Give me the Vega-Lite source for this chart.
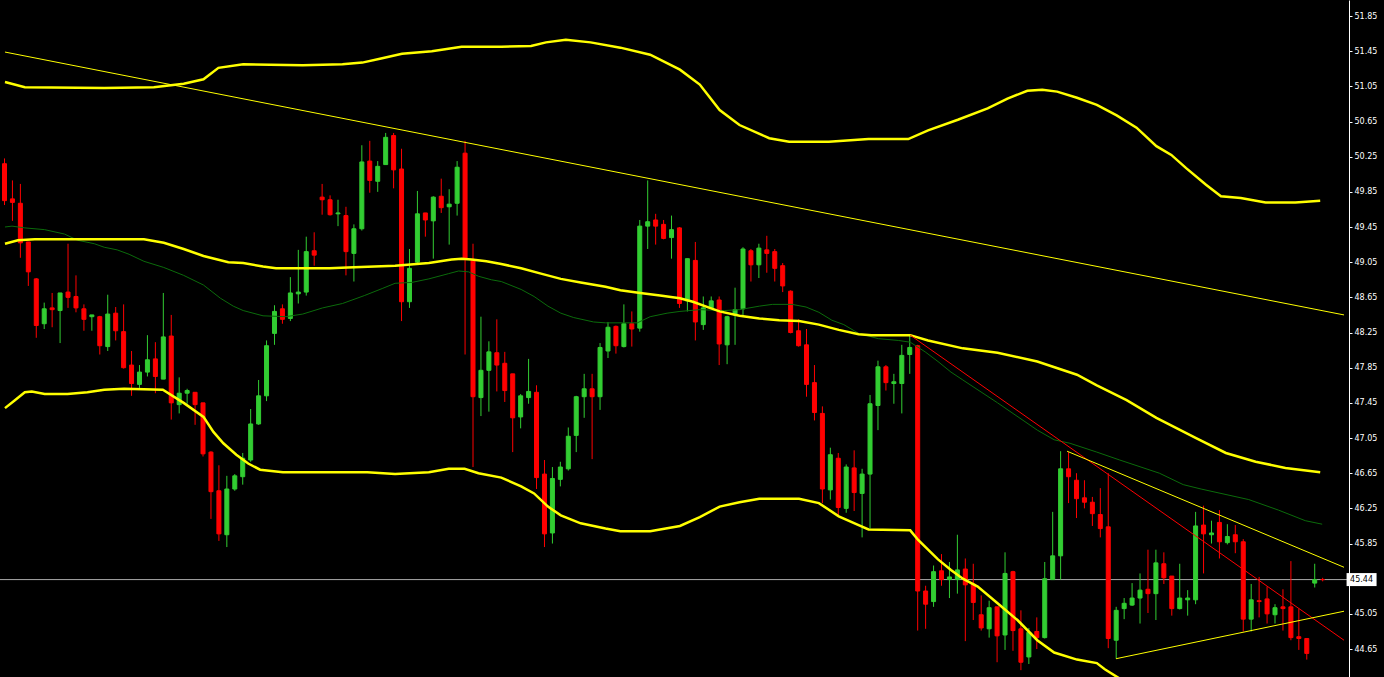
{
"$schema": "https://vega.github.io/schema/vega-lite/v6.json",
"width": 1349, "height": 677,
"autosize": {"type": "none"},
"padding": {"left": 0, "top": 0, "right": 35, "bottom": 0},
"background": "#000000",
"config": {"view": {"stroke": null}, "axis": {"labelOverlap": false, "labelBound": false, "labelFlush": false, "labelColor": "#FFFFFF", "labelFont": "DejaVu Sans", "labelFontSize": 8, "tickColor": "#FFFFFF", "tickSize": 3, "tickWidth": 1, "domainColor": "#FFFFFF", "domainWidth": 1, "labelPadding": 2, "grid": false}},
"datasets": {
"candles": [
{"k":0,"o":50.17,"h":50.23,"l":49.70,"c":49.75},{"k":1,"o":49.77,"h":49.98,"l":49.52,"c":49.73},{"k":2,"o":49.72,"h":49.94,"l":49.10,"c":49.27},{"k":3,"o":49.28,"h":49.28,"l":48.78,"c":48.94},{"k":4,"o":48.86,"h":48.87,"l":48.19,"c":48.33},{"k":5,"o":48.35,"h":48.59,"l":48.29,"c":48.52},{"k":6,"o":48.53,"h":48.70,"l":48.31,"c":48.51},{"k":7,"o":48.50,"h":48.70,"l":48.13,"c":48.70},{"k":8,"o":48.71,"h":49.26,"l":48.53,"c":48.65},{"k":9,"o":48.66,"h":48.90,"l":48.48,"c":48.53},
{"k":10,"o":48.52,"h":48.57,"l":48.27,"c":48.40},{"k":11,"o":48.43,"h":48.45,"l":48.27,"c":48.45},{"k":12,"o":48.43,"h":48.44,"l":48.00,"c":48.10},{"k":13,"o":48.09,"h":48.68,"l":48.04,"c":48.46},{"k":14,"o":48.47,"h":48.54,"l":48.16,"c":48.27},{"k":15,"o":48.26,"h":48.57,"l":47.84,"c":47.85},{"k":16,"o":47.88,"h":48.04,"l":47.53,"c":47.67},{"k":17,"o":47.66,"h":47.88,"l":47.62,"c":47.80},{"k":18,"o":47.80,"h":48.22,"l":47.75,"c":47.94},{"k":19,"o":47.95,"h":48.14,"l":47.56,"c":47.75},
{"k":20,"o":47.72,"h":48.70,"l":47.72,"c":48.20},{"k":21,"o":48.21,"h":48.45,"l":47.26,"c":47.45},{"k":22,"o":47.43,"h":47.74,"l":47.33,"c":47.56},{"k":23,"o":47.56,"h":47.61,"l":47.44,"c":47.59},{"k":24,"o":47.57,"h":47.57,"l":47.20,"c":47.43},{"k":25,"o":47.45,"h":47.45,"l":46.84,"c":46.87},{"k":26,"o":46.89,"h":46.90,"l":46.13,"c":46.44},{"k":27,"o":46.45,"h":46.74,"l":45.88,"c":45.96},{"k":28,"o":45.95,"h":46.62,"l":45.81,"c":46.47},{"k":29,"o":46.47,"h":46.64,"l":46.45,"c":46.62},
{"k":30,"o":46.61,"h":46.88,"l":46.52,"c":46.82},{"k":31,"o":46.80,"h":47.38,"l":46.78,"c":47.21},{"k":32,"o":47.21,"h":47.71,"l":47.20,"c":47.53},{"k":33,"o":47.53,"h":48.16,"l":47.47,"c":48.10},{"k":34,"o":48.24,"h":48.56,"l":48.11,"c":48.49},{"k":35,"o":48.52,"h":48.57,"l":48.35,"c":48.40},{"k":36,"o":48.41,"h":48.88,"l":48.38,"c":48.70},{"k":37,"o":48.69,"h":49.19,"l":48.58,"c":48.71},{"k":38,"o":48.71,"h":49.34,"l":48.67,"c":49.17},{"k":39,"o":49.18,"h":49.39,"l":49.01,"c":49.13},
{"k":40,"o":49.79,"h":49.94,"l":49.59,"c":49.76},{"k":41,"o":49.76,"h":49.81,"l":49.58,"c":49.59},{"k":42,"o":49.60,"h":49.76,"l":49.46,"c":49.61},{"k":43,"o":49.58,"h":49.68,"l":48.90,"c":49.17},{"k":44,"o":49.15,"h":49.48,"l":48.83,"c":49.43},{"k":45,"o":49.43,"h":50.38,"l":49.41,"c":50.19},{"k":46,"o":50.20,"h":50.43,"l":49.84,"c":49.98},{"k":47,"o":49.97,"h":50.20,"l":49.85,"c":50.14},{"k":48,"o":50.16,"h":50.52,"l":50.16,"c":50.47},{"k":49,"o":50.49,"h":50.52,"l":49.89,"c":50.10},
{"k":50,"o":50.11,"h":50.34,"l":48.38,"c":48.60},{"k":51,"o":48.60,"h":49.20,"l":48.53,"c":48.98},{"k":52,"o":49.05,"h":49.86,"l":49.04,"c":49.60},{"k":53,"o":49.61,"h":49.61,"l":49.34,"c":49.53},{"k":54,"o":49.52,"h":49.80,"l":49.09,"c":49.79},{"k":55,"o":49.80,"h":50.00,"l":49.61,"c":49.67},{"k":56,"o":49.68,"h":49.88,"l":49.25,"c":49.71},{"k":57,"o":49.72,"h":50.20,"l":49.58,"c":50.13},{"k":58,"o":50.29,"h":50.43,"l":48.00,"c":49.08},{"k":59,"o":49.07,"h":49.26,"l":46.72,"c":47.52},
{"k":60,"o":47.51,"h":48.43,"l":47.30,"c":47.82},{"k":61,"o":47.82,"h":48.15,"l":47.35,"c":48.03},{"k":62,"o":48.02,"h":48.40,"l":47.58,"c":47.88},{"k":63,"o":47.90,"h":48.03,"l":47.46,"c":47.59},{"k":64,"o":47.78,"h":47.78,"l":46.89,"c":47.28},{"k":65,"o":47.29,"h":47.55,"l":47.16,"c":47.53},{"k":66,"o":47.51,"h":47.95,"l":47.44,"c":47.58},{"k":67,"o":47.57,"h":47.65,"l":46.47,"c":46.60},{"k":68,"o":46.64,"h":46.80,"l":45.81,"c":45.96},{"k":69,"o":45.97,"h":46.72,"l":45.85,"c":46.59},
{"k":70,"o":46.58,"h":46.78,"l":46.50,"c":46.72},{"k":71,"o":46.70,"h":47.17,"l":46.68,"c":47.07},{"k":72,"o":47.08,"h":47.53,"l":46.89,"c":47.52},{"k":73,"o":47.52,"h":47.78,"l":47.28,"c":47.61},{"k":74,"o":47.61,"h":47.78,"l":46.81,"c":47.52},{"k":75,"o":47.52,"h":48.13,"l":47.37,"c":48.08},{"k":76,"o":48.04,"h":48.37,"l":47.96,"c":48.31},{"k":77,"o":48.32,"h":48.33,"l":48.01,"c":48.10},{"k":78,"o":48.09,"h":48.57,"l":48.08,"c":48.35},{"k":79,"o":48.35,"h":48.49,"l":48.09,"c":48.29},
{"k":80,"o":48.30,"h":49.53,"l":48.26,"c":49.46},{"k":81,"o":49.46,"h":49.98,"l":49.20,"c":49.51},{"k":82,"o":49.53,"h":49.60,"l":49.25,"c":49.46},{"k":83,"o":49.48,"h":49.53,"l":49.31,"c":49.32},{"k":84,"o":49.33,"h":49.58,"l":49.09,"c":49.42},{"k":85,"o":49.44,"h":49.45,"l":48.53,"c":48.58},{"k":86,"o":48.61,"h":49.09,"l":48.49,"c":49.09},{"k":87,"o":49.07,"h":49.28,"l":48.16,"c":48.37},{"k":88,"o":48.34,"h":48.66,"l":48.28,"c":48.53},{"k":89,"o":48.53,"h":48.66,"l":48.52,"c":48.61},
{"k":90,"o":48.62,"h":48.66,"l":47.88,"c":48.12},{"k":91,"o":48.11,"h":48.44,"l":47.89,"c":48.43},{"k":92,"o":48.45,"h":48.76,"l":48.11,"c":48.51},{"k":93,"o":48.52,"h":49.22,"l":48.45,"c":49.20},{"k":94,"o":49.18,"h":49.20,"l":48.83,"c":49.02},{"k":95,"o":49.02,"h":49.26,"l":48.87,"c":49.21},{"k":96,"o":49.19,"h":49.35,"l":48.93,"c":49.15},{"k":97,"o":49.17,"h":49.20,"l":48.83,"c":48.98},{"k":98,"o":49.01,"h":49.04,"l":48.71,"c":48.78},{"k":99,"o":48.72,"h":48.73,"l":48.24,"c":48.25},
{"k":100,"o":48.27,"h":48.40,"l":48.09,"c":48.10},{"k":101,"o":48.11,"h":48.29,"l":47.52,"c":47.66},{"k":102,"o":47.68,"h":47.88,"l":47.25,"c":47.34},{"k":103,"o":47.33,"h":47.41,"l":46.31,"c":46.47},{"k":104,"o":46.46,"h":46.94,"l":46.35,"c":46.86},{"k":105,"o":46.82,"h":46.88,"l":46.17,"c":46.26},{"k":106,"o":46.25,"h":46.75,"l":46.20,"c":46.72},{"k":107,"o":46.71,"h":46.91,"l":46.22,"c":46.43},{"k":108,"o":46.42,"h":46.70,"l":45.92,"c":46.64},{"k":109,"o":46.64,"h":47.54,"l":46.02,"c":47.44},
{"k":110,"o":47.42,"h":47.93,"l":47.14,"c":47.86},{"k":111,"o":47.86,"h":47.88,"l":47.59,"c":47.68},{"k":112,"o":47.67,"h":47.78,"l":47.44,"c":47.69},{"k":113,"o":47.67,"h":48.11,"l":47.33,"c":47.99},{"k":114,"o":48.00,"h":48.22,"l":47.78,"c":48.08},{"k":115,"o":48.10,"h":48.11,"l":44.86,"c":45.31},{"k":116,"o":45.31,"h":45.37,"l":44.88,"c":45.16},{"k":117,"o":45.19,"h":45.60,"l":45.13,"c":45.53},{"k":118,"o":45.54,"h":45.73,"l":45.37,"c":45.44},{"k":119,"o":45.44,"h":45.64,"l":45.23,"c":45.47},
{"k":120,"o":45.44,"h":45.95,"l":45.28,"c":45.55},{"k":121,"o":45.56,"h":45.68,"l":44.74,"c":45.38},{"k":122,"o":45.39,"h":45.62,"l":44.98,"c":45.18},{"k":123,"o":45.04,"h":45.26,"l":44.86,"c":44.89},{"k":124,"o":44.88,"h":45.20,"l":44.78,"c":45.12},{"k":125,"o":45.13,"h":45.13,"l":44.50,"c":44.80},{"k":126,"o":44.81,"h":45.75,"l":44.64,"c":45.51},{"k":127,"o":45.53,"h":45.54,"l":44.63,"c":44.86},{"k":128,"o":44.88,"h":45.09,"l":44.41,"c":44.50},{"k":129,"o":44.56,"h":44.89,"l":44.48,"c":44.84},
{"k":130,"o":44.85,"h":45.01,"l":44.65,"c":44.78},{"k":131,"o":44.78,"h":45.64,"l":44.77,"c":45.45},{"k":132,"o":45.44,"h":46.21,"l":45.44,"c":45.71},{"k":133,"o":45.71,"h":46.90,"l":45.44,"c":46.70},{"k":134,"o":46.70,"h":46.89,"l":46.31,"c":46.61},{"k":135,"o":46.57,"h":46.65,"l":46.14,"c":46.36},{"k":136,"o":46.37,"h":46.57,"l":46.25,"c":46.32},{"k":137,"o":46.32,"h":46.38,"l":46.05,"c":46.19},{"k":138,"o":46.18,"h":46.48,"l":45.92,"c":46.02},{"k":139,"o":46.04,"h":46.65,"l":44.66,"c":44.77},
{"k":140,"o":44.75,"h":45.13,"l":44.54,"c":45.09},{"k":141,"o":45.11,"h":45.23,"l":44.99,"c":45.17},{"k":142,"o":45.15,"h":45.40,"l":45.14,"c":45.23},{"k":143,"o":45.23,"h":45.51,"l":44.94,"c":45.32},{"k":144,"o":45.33,"h":45.78,"l":45.06,"c":45.28},{"k":145,"o":45.28,"h":45.78,"l":44.98,"c":45.63},{"k":146,"o":45.62,"h":45.75,"l":45.39,"c":45.46},{"k":147,"o":45.48,"h":45.48,"l":45.03,"c":45.11},{"k":148,"o":45.11,"h":45.62,"l":45.10,"c":45.23},{"k":149,"o":45.21,"h":45.32,"l":45.03,"c":45.23},
{"k":150,"o":45.21,"h":46.21,"l":45.16,"c":46.05},{"k":151,"o":46.06,"h":46.28,"l":45.51,"c":45.96},{"k":152,"o":45.95,"h":46.11,"l":45.85,"c":45.97},{"k":153,"o":46.09,"h":46.23,"l":45.68,"c":45.87},{"k":154,"o":45.86,"h":46.07,"l":45.84,"c":45.93},{"k":155,"o":45.95,"h":46.06,"l":45.74,"c":45.87},{"k":156,"o":45.87,"h":45.90,"l":44.85,"c":44.99},{"k":157,"o":44.99,"h":45.39,"l":44.85,"c":45.21},{"k":158,"o":45.20,"h":45.47,"l":45.01,"c":45.19},{"k":159,"o":45.22,"h":45.36,"l":44.94,"c":45.05},
{"k":160,"o":45.04,"h":45.16,"l":44.94,"c":45.12},{"k":161,"o":45.13,"h":45.33,"l":44.86,"c":45.11},{"k":162,"o":45.13,"h":45.65,"l":44.75,"c":44.78},{"k":163,"o":44.79,"h":45.11,"l":44.64,"c":44.77},{"k":164,"o":44.77,"h":44.77,"l":44.53,"c":44.60},{"k":165,"o":45.40,"h":45.62,"l":45.35,"c":45.44},{"k":166,"o":45.44,"h":45.46,"l":45.42,"c":45.44}
],
"upper": [
{"k":0.06,"p":51.10},{"k":2.56,"p":51.04},{"k":12.56,"p":51.03},{"k":18.81,"p":51.04},{"k":22.56,"p":51.08},{"k":25.06,"p":51.13},{"k":26.94,"p":51.26},{"k":30.06,"p":51.30},{"k":37.56,"p":51.29},{"k":42.56,"p":51.30},{"k":45.06,"p":51.32},{"k":47.56,"p":51.37},{"k":50.06,"p":51.42},{"k":53.81,"p":51.45},{"k":57.56,"p":51.50},{"k":62.56,"p":51.50},{"k":66.31,"p":51.51},{"k":68.19,"p":51.55},{"k":70.69,"p":51.58},{"k":73.81,"p":51.55},{"k":77.56,"p":51.49},{"k":81.31,"p":51.41},{"k":85.06,"p":51.24},{"k":87.56,"p":51.07},{"k":90.06,"p":50.78},{"k":92.56,"p":50.61},{"k":96.31,"p":50.46},{"k":98.81,"p":50.42},{"k":103.81,"p":50.42},{"k":108.81,"p":50.45},{"k":113.81,"p":50.45},{"k":116.31,"p":50.55},{"k":120.06,"p":50.67},{"k":123.81,"p":50.80},{"k":126.31,"p":50.91},{"k":128.81,"p":51.00},{"k":130.69,"p":51.01},{"k":132.56,"p":50.99},{"k":135.06,"p":50.92},{"k":137.56,"p":50.84},{"k":140.06,"p":50.72},{"k":142.56,"p":50.58},{"k":145.06,"p":50.37},{"k":146.94,"p":50.27},{"k":148.81,"p":50.12},{"k":151.31,"p":49.93},{"k":153.19,"p":49.80},{"k":155.69,"p":49.78},{"k":158.81,"p":49.73},{"k":162.56,"p":49.73},{"k":165.69,"p":49.75}
],
"mid": [
{"k":0.06,"p":49.26},{"k":1.69,"p":49.30},{"k":3.81,"p":49.31},{"k":15.06,"p":49.31},{"k":17.56,"p":49.31},{"k":20.06,"p":49.27},{"k":22.56,"p":49.20},{"k":25.06,"p":49.12},{"k":28.19,"p":49.05},{"k":30.06,"p":49.04},{"k":32.56,"p":49.00},{"k":34.19,"p":48.98},{"k":40.94,"p":48.98},{"k":43.19,"p":48.99},{"k":49.19,"p":49.01},{"k":53.44,"p":49.04},{"k":56.31,"p":49.08},{"k":57.56,"p":49.09},{"k":58.81,"p":49.08},{"k":60.69,"p":49.06},{"k":62.56,"p":49.03},{"k":65.06,"p":48.98},{"k":67.56,"p":48.92},{"k":70.06,"p":48.86},{"k":72.56,"p":48.82},{"k":75.69,"p":48.77},{"k":77.56,"p":48.73},{"k":80.06,"p":48.70},{"k":82.56,"p":48.67},{"k":85.06,"p":48.64},{"k":86.69,"p":48.60},{"k":88.81,"p":48.53},{"k":90.06,"p":48.49},{"k":92.56,"p":48.44},{"k":95.06,"p":48.41},{"k":97.56,"p":48.39},{"k":100.06,"p":48.38},{"k":102.56,"p":48.34},{"k":105.06,"p":48.28},{"k":107.56,"p":48.23},{"k":109.19,"p":48.22},{"k":114.06,"p":48.22},{"k":116.31,"p":48.16},{"k":120.69,"p":48.07},{"k":125.06,"p":48.02},{"k":130.06,"p":47.92},{"k":135.06,"p":47.77},{"k":137.56,"p":47.65},{"k":141.31,"p":47.48},{"k":145.06,"p":47.28},{"k":150.06,"p":47.05},{"k":153.81,"p":46.88},{"k":157.56,"p":46.78},{"k":161.31,"p":46.71},{"k":165.69,"p":46.66}
],
"lower": [
{"k":0.06,"p":47.39},{"k":1.31,"p":47.48},{"k":2.56,"p":47.57},{"k":3.44,"p":47.58},{"k":5.06,"p":47.55},{"k":7.94,"p":47.55},{"k":10.44,"p":47.57},{"k":12.56,"p":47.60},{"k":15.06,"p":47.61},{"k":19.94,"p":47.60},{"k":22.56,"p":47.45},{"k":25.06,"p":47.29},{"k":26.31,"p":47.12},{"k":27.56,"p":46.99},{"k":29.19,"p":46.86},{"k":30.69,"p":46.76},{"k":32.19,"p":46.69},{"k":35.06,"p":46.66},{"k":45.69,"p":46.66},{"k":49.19,"p":46.64},{"k":53.44,"p":46.66},{"k":55.94,"p":46.70},{"k":57.94,"p":46.70},{"k":59.69,"p":46.65},{"k":62.56,"p":46.60},{"k":65.06,"p":46.50},{"k":66.69,"p":46.42},{"k":68.44,"p":46.27},{"k":70.06,"p":46.17},{"k":72.56,"p":46.08},{"k":75.69,"p":46.02},{"k":77.56,"p":45.99},{"k":81.31,"p":45.99},{"k":85.06,"p":46.05},{"k":87.56,"p":46.15},{"k":90.06,"p":46.27},{"k":92.56,"p":46.32},{"k":95.06,"p":46.36},{"k":100.06,"p":46.36},{"k":102.56,"p":46.31},{"k":105.06,"p":46.16},{"k":107.56,"p":46.06},{"k":108.81,"p":46.01},{"k":114.06,"p":46.00},{"k":115.06,"p":45.89},{"k":116.31,"p":45.78},{"k":117.56,"p":45.67},{"k":119.19,"p":45.55},{"k":120.69,"p":45.45},{"k":122.56,"p":45.36},{"k":125.06,"p":45.17},{"k":127.56,"p":44.98},{"k":130.06,"p":44.75},{"k":132.19,"p":44.61},{"k":135.06,"p":44.53},{"k":137.56,"p":44.49},{"k":138.56,"p":44.42},{"k":140.69,"p":44.30}
],
"ma": [
{"k":0.06,"p":49.45},{"k":0.94,"p":49.46},{"k":2.56,"p":49.44},{"k":5.06,"p":49.42},{"k":7.56,"p":49.37},{"k":9.19,"p":49.30},{"k":11.31,"p":49.26},{"k":12.56,"p":49.22},{"k":14.19,"p":49.19},{"k":15.69,"p":49.14},{"k":17.56,"p":49.06},{"k":20.06,"p":48.99},{"k":22.56,"p":48.90},{"k":25.06,"p":48.79},{"k":27.19,"p":48.64},{"k":28.81,"p":48.55},{"k":30.06,"p":48.50},{"k":32.56,"p":48.44},{"k":35.44,"p":48.43},{"k":37.56,"p":48.46},{"k":40.06,"p":48.53},{"k":42.56,"p":48.58},{"k":45.31,"p":48.67},{"k":47.56,"p":48.75},{"k":49.19,"p":48.81},{"k":51.31,"p":48.82},{"k":53.44,"p":48.86},{"k":55.94,"p":48.92},{"k":57.19,"p":48.95},{"k":58.44,"p":48.94},{"k":59.69,"p":48.89},{"k":61.31,"p":48.85},{"k":62.56,"p":48.83},{"k":65.06,"p":48.74},{"k":66.69,"p":48.66},{"k":68.44,"p":48.55},{"k":70.06,"p":48.47},{"k":71.69,"p":48.42},{"k":74.19,"p":48.37},{"k":75.69,"p":48.36},{"k":79.69,"p":48.36},{"k":81.31,"p":48.43},{"k":83.44,"p":48.47},{"k":85.06,"p":48.49},{"k":87.56,"p":48.51},{"k":90.69,"p":48.50},{"k":92.56,"p":48.51},{"k":95.06,"p":48.55},{"k":96.69,"p":48.57},{"k":99.19,"p":48.57},{"k":100.94,"p":48.54},{"k":102.56,"p":48.48},{"k":104.19,"p":48.39},{"k":105.69,"p":48.34},{"k":107.56,"p":48.24},{"k":110.06,"p":48.18},{"k":112.56,"p":48.16},{"k":114.06,"p":48.14},{"k":115.94,"p":48.03},{"k":117.56,"p":47.92},{"k":119.19,"p":47.80},{"k":120.69,"p":47.71},{"k":125.06,"p":47.45},{"k":130.06,"p":47.14},{"k":132.19,"p":47.03},{"k":134.19,"p":46.99},{"k":137.56,"p":46.89},{"k":140.44,"p":46.80},{"k":145.44,"p":46.65},{"k":148.44,"p":46.52},{"k":150.69,"p":46.47},{"k":156.69,"p":46.35},{"k":160.44,"p":46.23},{"k":163.81,"p":46.11},{"k":165.94,"p":46.07}
],
"trend": [
{"t":"a","k":0.06,"p":51.44},{"t":"a","k":168.69,"p":48.45},
{"t":"b","k":114.06,"p":48.22},{"t":"b","k":168.69,"p":44.75},
{"t":"c","k":133.81,"p":46.90},{"t":"c","k":168.69,"p":45.58},
{"t":"d","k":139.98,"p":44.54},{"t":"d","k":168.69,"p":45.08}
],
"last": [{"p":45.44,"label":"45.44"}]
},
"layer": [
{
"data": {"name": "last"},
"mark": {"type": "rule", "color": "#A9A9A9", "strokeWidth": 1},
"encoding": {
"y": {"field": "p", "type": "quantitative", "title": null,
"scale": {"domain": [44.332, 52.032], "nice": false, "zero": false},
"axis": {"orient": "right", "values": [44.65,45.05,45.85,46.25,46.65,47.05,47.45,47.85,48.25,48.65,49.05,49.45,49.85,50.25,50.65,51.05,51.45,51.85], "tickCount": 60, "format": ".2f", "labelOverlap": false, "labelBound": false, "labelFlush": false, "title": null}
}
}
},
{
"data": {"name": "candles"},
"mark": {"type": "rule", "strokeWidth": 1},
"encoding": {
"x": {"field": "k", "type": "quantitative", "scale": {"domain": [0.0625, 168.6875], "nice": false, "zero": false}, "axis": null},
"y": {"field": "l", "type": "quantitative", "title": null},
"y2": {"field": "h"},
"color": {"condition": {"test": "datum.c > datum.o", "value": "#32CD32"}, "value": "#FF0000"}
}
},
{
"data": {"name": "candles"},
"mark": {"type": "bar", "width": 4, "strokeWidth": 1},
"encoding": {
"x": {"field": "k", "type": "quantitative", "axis": null},
"y": {"field": "o", "type": "quantitative", "title": null},
"y2": {"field": "c"},
"fill": {"condition": {"test": "datum.c > datum.o", "value": "#32CD32"}, "value": "#FF0000"},
"stroke": {"condition": {"test": "datum.c > datum.o", "value": "#32CD32"}, "value": "#FF0000"}
}
},
{
"data": {"name": "ma"},
"mark": {"type": "line", "color": "#0B6B0B", "strokeWidth": 1, "clip": true},
"encoding": {"x": {"field": "k", "type": "quantitative", "axis": null}, "y": {"field": "p", "type": "quantitative", "title": null}}
},
{
"data": {"name": "upper"},
"mark": {"type": "line", "color": "#FFFF00", "strokeWidth": 2.5, "clip": true},
"encoding": {"x": {"field": "k", "type": "quantitative", "axis": null}, "y": {"field": "p", "type": "quantitative", "title": null}}
},
{
"data": {"name": "mid"},
"mark": {"type": "line", "color": "#FFFF00", "strokeWidth": 2.5, "clip": true},
"encoding": {"x": {"field": "k", "type": "quantitative", "axis": null}, "y": {"field": "p", "type": "quantitative", "title": null}}
},
{
"data": {"name": "lower"},
"mark": {"type": "line", "color": "#FFFF00", "strokeWidth": 2.5, "clip": true},
"encoding": {"x": {"field": "k", "type": "quantitative", "axis": null}, "y": {"field": "p", "type": "quantitative", "title": null}}
},
{
"data": {"name": "trend"},
"mark": {"type": "line", "strokeWidth": 1, "clip": true},
"encoding": {
"x": {"field": "k", "type": "quantitative", "axis": null},
"y": {"field": "p", "type": "quantitative", "title": null},
"color": {"field": "t", "type": "nominal", "legend": null, "scale": {"domain": ["a","b","c","d"], "range": ["#FFFF00","#FF0000","#FFFF00","#FFFF00"]}}
}
},
{
"data": {"name": "last"},
"mark": {"type": "tick", "orient": "horizontal", "color": "#FFFFFF", "size": 30, "thickness": 13, "opacity": 1},
"encoding": {
"x": {"datum": 170.9, "type": "quantitative", "axis": null},
"y": {"field": "p", "type": "quantitative", "title": null}
}
},
{
"data": {"name": "last"},
"mark": {"type": "text", "color": "#000000", "font": "DejaVu Sans", "fontSize": 8, "align": "center", "baseline": "middle"},
"encoding": {
"x": {"datum": 170.9, "type": "quantitative", "axis": null},
"y": {"field": "p", "type": "quantitative", "title": null},
"text": {"field": "label"}
}
}
]
}
